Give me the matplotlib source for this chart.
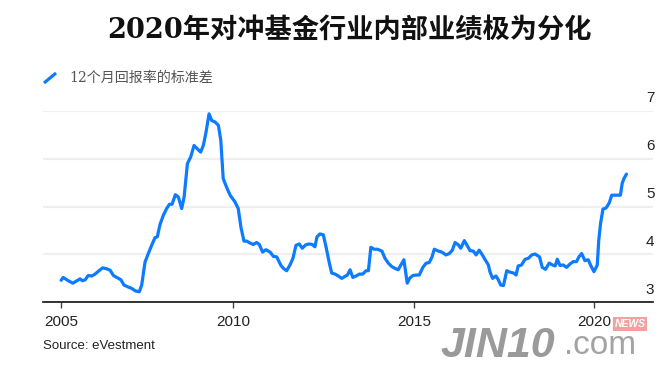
import numpy as np
import matplotlib
matplotlib.use('Agg')
import matplotlib.pyplot as plt
from matplotlib.lines import Line2D
import matplotlib.transforms as mtransforms

# ---- data (months since Jan 2005, value) ----
months = [2.7, 3.4, 5.1, 6.6, 7.9, 9.0, 9.8, 10.7, 11.7, 12.9, 14.0, 15.1, 16.5, 17.9,
          19.0, 20.1, 21.2, 22.6, 23.6, 25.0, 26.2, 27.3, 28.7, 29.5, 30.6, 31.7, 32.8,
          33.9, 34.7, 35.6, 36.7, 37.8, 38.7, 39.6, 40.7, 41.7, 42.8, 43.6, 44.7, 45.8,
          46.9, 48.0, 49.1, 50.0, 50.9, 51.9, 52.8, 53.9, 55.0, 55.8, 56.6, 57.7, 58.9,
          60.5, 61.6, 62.5, 63.5, 64.4, 65.5, 66.6, 67.7, 68.6, 69.7, 70.8, 72.2, 73.3,
          74.4, 75.8, 76.8, 77.7, 78.8, 79.8, 80.8, 81.9, 82.9, 84.0, 85.1, 86.2, 87.1,
          87.8, 88.8, 89.9, 90.8, 91.9, 92.7, 93.8, 94.9, 96.0, 97.1, 97.9, 98.8, 99.7,
          100.8, 101.9, 103.0, 104.1, 104.9, 105.7, 106.8, 107.9, 109.4, 110.4, 111.5,
          112.6, 113.7, 114.8, 116.7, 117.8, 118.7, 119.7, 120.8, 121.8, 123.0, 124.1,
          125.1, 126.0, 126.8, 128.2, 129.3, 130.7, 131.8, 132.8, 133.7, 134.8, 135.6,
          136.8, 137.8, 138.7, 139.8, 140.7, 141.7, 142.8, 143.7, 144.8, 145.3, 146.2,
          147.3, 148.1, 148.9, 149.8, 150.9, 152.0, 153.3, 154.0, 154.7, 155.8, 157.0,
          158.1, 159.2, 160.3, 161.8, 162.7, 163.8, 165.0, 166.1, 167.0, 167.7, 168.6,
          169.7, 170.8, 171.9, 173.0, 174.1, 174.9, 175.8, 176.9, 178.0, 178.9, 179.9,
          181.0, 181.5, 182.1, 182.9, 183.9, 185.0, 185.8, 186.9, 188.0, 188.7, 189.3,
          189.9, 190.7]
values = [3.46, 3.52, 3.45, 3.40, 3.45, 3.49, 3.45, 3.47, 3.56, 3.55, 3.59, 3.65, 3.72, 3.70,
          3.67, 3.56, 3.52, 3.47, 3.36, 3.32, 3.29, 3.24, 3.22, 3.36, 3.84, 4.02, 4.19,
          4.35, 4.37, 4.63, 4.82, 4.96, 5.05, 5.05, 5.25, 5.20, 4.96, 5.20, 5.90, 6.04,
          6.28, 6.21, 6.14, 6.28, 6.56, 6.94, 6.80, 6.77, 6.70, 6.39, 5.59, 5.41, 5.24,
          5.10, 4.96, 4.57, 4.28, 4.28, 4.24, 4.21, 4.25, 4.21, 4.05, 4.10, 4.05, 3.96,
          3.95, 3.77, 3.70, 3.66, 3.78, 3.92, 4.19, 4.22, 4.13, 4.20, 4.22, 4.21, 4.16,
          4.37, 4.43, 4.41, 4.16, 3.82, 3.61, 3.59, 3.55, 3.50, 3.54, 3.57, 3.68, 3.52,
          3.55, 3.59, 3.59, 3.66, 3.66, 4.15, 4.11, 4.11, 4.07, 3.92, 3.82,
          3.75, 3.71, 3.68, 3.89, 3.40, 3.51, 3.56, 3.57, 3.57, 3.73, 3.82,
          3.83, 3.94, 4.11, 4.07, 4.05, 3.99, 4.02, 4.09, 4.25, 4.20, 4.13,
          4.29, 4.18, 4.08, 4.07, 3.99, 4.09, 3.99, 3.89, 3.78, 3.64, 3.50,
          3.55, 3.47, 3.36, 3.35, 3.66, 3.63, 3.61, 3.57, 3.76, 3.78, 3.90,
          3.92, 3.99, 4.01, 3.95, 3.73, 3.69, 3.82, 3.78, 3.76, 3.90, 3.77,
          3.78, 3.73, 3.80, 3.85, 3.85, 3.95, 4.02, 3.87, 3.89, 3.76, 3.64,
          3.78, 4.30, 4.65, 4.95, 4.97, 5.08, 5.24, 5.24, 5.24, 5.24, 5.49,
          5.59, 5.68]
x_tick_labels = ["2005", "2010", "2015", "2020"]
x_tick_years = [2010, 2015, 2020]
y_ticks = [3, 4, 5, 6, 7]
title = "2020年对冲基金行业内部业绩极为分化"
series_label = "12个月回报率的标准差"
source = "Source: eVestment"

BLUE = '#0D7BFF'
W, H = 672, 369

t = 2005 + np.array(months) / 12.0

fig = plt.figure(figsize=(W / 100, H / 100), dpi=100)
fig.patch.set_facecolor('white')
ax = fig.add_axes([43 / W, 1 - 302.3 / H, (653 - 43) / W, (302.3 - 111) / H])

ax.plot(t, values, color=BLUE, lw=2.3, solid_joinstyle='round',
        solid_capstyle='round', clip_on=False, zorder=3)

ax.set_xlim(2004.723, 2021.628)
ax.set_ylim(3, 7)

for s in ['left', 'right', 'top']:
    ax.spines[s].set_visible(False)
ax.spines['bottom'].set_color('#111111')
ax.spines['bottom'].set_linewidth(1.2)
ax.spines['bottom'].set_zorder(4)

ax.set_yticks(y_ticks)
ax.yaxis.grid(True, color='#efefef', lw=1.6)
ax.set_axisbelow(True)
ax.tick_params(axis='y', length=0, labelleft=False)

tick_font = 'Liberation Sans'
trans = mtransforms.blended_transform_factory(ax.transAxes, ax.transData)
trans = mtransforms.offset_copy(trans, fig=fig, x=1.0, y=4.0, units='points')
for v in y_ticks:
    ax.text(1.0, v, str(v), transform=trans, ha='right', va='bottom',
            fontsize=11, family=tick_font, color='#222222')

ax.set_xticks([t[0]] + x_tick_years)
ax.set_xticklabels(x_tick_labels, family=tick_font, fontsize=11, color='#222222')
ax.tick_params(axis='x', length=4.3, width=1.0, color='#444444', pad=5)

# title
fig.text(349 / W, 1 - 30 / H, title, ha='center', va='center', fontsize=19.6,
         fontweight='bold', family=['DejaVu Serif', 'Noto Sans CJK SC'], color='#111111')

# legend
fig.add_artist(Line2D([44 / W, 56 / W], [1 - 83 / H, 1 - 73 / H], transform=fig.transFigure,
                      color=BLUE, lw=2.3, solid_capstyle='butt'))
fig.text(69.3 / W, 1 - 78.3 / H, series_label, ha='left', va='center', fontsize=10.1,
         family=['DejaVu Serif', 'Noto Sans CJK SC'], color='#555555')

# source
fig.text(43 / W, 1 - 346 / H, source, ha='left', va='center', fontsize=9.5,
         family=tick_font, color='#222222')

# watermark
fig.text(440 / W, 1 - 357 / H, "JIN10", ha='left', va='baseline', fontsize=31,
         fontweight='bold', style='italic', family=tick_font, color='#8f8f8f', alpha=0.9)
fig.text(564 / W, 1 - 354 / H, ".com", ha='left', va='baseline', fontsize=24,
         family=tick_font, color='#999999', alpha=0.9)
fig.text(630 / W, 1 - 324 / H, "NEWS", ha='center', va='center', fontsize=7.5,
         fontweight='bold', style='italic', family=tick_font, color='white',
         bbox=dict(boxstyle='square,pad=0.15', facecolor='#f3a0a0', edgecolor='none'))

fig.savefig('out.png', dpi=100, facecolor='white')
